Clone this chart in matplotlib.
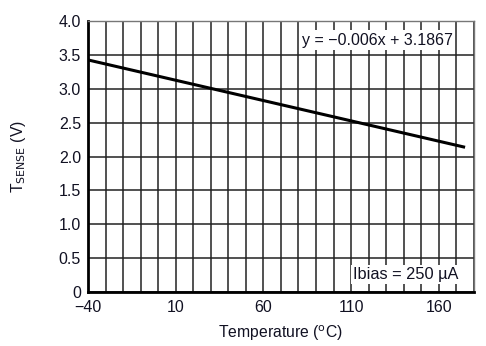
import numpy as np
import matplotlib.pyplot as plt
from matplotlib.ticker import MultipleLocator

plt.rcParams['font.family'] = ['Liberation Sans', 'DejaVu Sans']

# sensor voltage vs. temperature (fit: y = -0.006x + 3.1867)
temps = [-40, 10, 60, 110, 160, 175]
vsense = [3.427, 3.127, 2.827, 2.527, 2.227, 2.137]

xticks = [-40, 10, 60, 110, 160]
yticks = [0, 0.5, 1.0, 1.5, 2.0, 2.5, 3.0, 3.5, 4.0]
ytick_labels = ["0", "0.5", "1.0", "1.5", "2.0", "2.5", "3.0", "3.5", "4.0"]

fig = plt.figure(figsize=(4.86, 3.46), dpi=100)
ax = fig.add_axes([0.181, 0.156, 0.794, 0.783])

ax.plot(temps, vsense, color="black", lw=2.2, solid_capstyle="butt", zorder=3)

ax.set_xlim(-40, 180)
ax.set_ylim(0, 4.0)
ax.set_xticks(xticks)
ax.set_yticks(yticks)
ax.set_yticklabels(ytick_labels)
ax.xaxis.set_minor_locator(MultipleLocator(10))
ax.grid(True, which="both", axis="x", color="#222222", lw=1.1)
ax.grid(True, which="major", axis="y", color="#222222", lw=1.1)
ax.tick_params(which="both", length=0, labelsize=11.5, colors="#111122")
ax.tick_params(axis="x", pad=6)
ax.tick_params(axis="y", pad=5)

for side in ["left", "bottom"]:
    ax.spines[side].set_linewidth(2.0)
    ax.spines[side].set_color("black")
for side in ["top", "right"]:
    ax.spines[side].set_linewidth(1.0)
    ax.spines[side].set_color("#777777")

ax.set_xlabel("Temperature ($^{\\mathrm{o}}$C)", fontsize=11.3, color="#111122", labelpad=6)
ax.set_ylabel("T$_{\\mathrm{SENSE}}$ (V)", fontsize=11.3, color="#111122", labelpad=22)

box = dict(facecolor="white", edgecolor="none", pad=1.5)
ax.text(0.946, 0.93, "y = \u22120.006x + 3.1867", transform=ax.transAxes,
        ha="right", va="center", fontsize=11.5, color="#111122", bbox=box, zorder=4)
ax.text(0.96, 0.065, "Ibias = 250 \u00b5A", transform=ax.transAxes,
        ha="right", va="center", fontsize=11.8, color="#111122", bbox=box, zorder=4)

fig.savefig("out.png", dpi=100)
